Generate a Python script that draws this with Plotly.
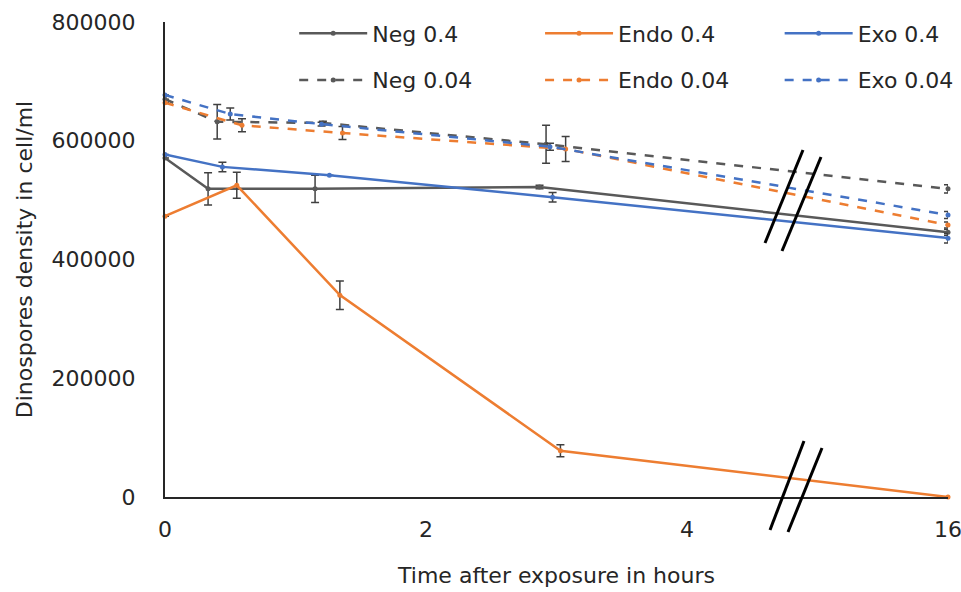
import plotly.graph_objects as go

# ---------------- data ----------------
tick_hours = [0, 2, 4, 16]

hours_neg_04 = [0, 0.33, 1.15, 2.87, 16]
neg_04 = [571000, 519000, 519000, 522000, 446000]
neg_04_err = [0, 27000, 23000, 3000, 5000]

hours_endo_04 = [0, 0.55, 1.34, 3.03, 16]
endo_04 = [473000, 525000, 340000, 78000, 0]
endo_04_err = [0, 22000, 24000, 10000, 0]

hours_exo_04 = [0, 0.44, 1.26, 2.97, 16]
exo_04 = [577000, 556000, 542000, 505000, 436000]
exo_04_err = [0, 8000, 0, 8000, 8000]

hours_neg_004 = [0, 0.4, 1.21, 2.92, 16]
neg_004 = [670000, 632000, 630000, 594000, 519000]
neg_004_err = [0, 29000, 3000, 32000, 7000]

hours_endo_004 = [0, 0.59, 1.36, 3.07, 16]
endo_004 = [664000, 626000, 613000, 586000, 458000]
endo_004_err = [0, 11000, 11000, 21000, 5000]

hours_exo_004 = [0, 0.5, 1.2, 2.95, 16]
exo_004 = [677000, 645000, 628000, 590000, 475000]
exo_004_err = [0, 10000, 3000, 6000, 6000]

# broken time axis: hours up to 4 are linear, the 16 h sample sits after the break
def axis_pos(t):
    return t if t <= 4 else 6

GRAY = "#595959"
ORANGE = "#ED7D31"
BLUE = "#4472C4"
ERR = "#404040"
TXT = "#262626"
FONT = "DejaVu Sans"

series = [
    ("Neg 0.4", hours_neg_04, neg_04, neg_04_err, GRAY, "solid", "legend"),
    ("Neg 0.04", hours_neg_004, neg_004, neg_004_err, GRAY, "dash", "legend"),
    ("Endo 0.4", hours_endo_04, endo_04, endo_04_err, ORANGE, "solid", "legend2"),
    ("Endo 0.04", hours_endo_004, endo_004, endo_004_err, ORANGE, "dash", "legend2"),
    ("Exo 0.4", hours_exo_04, exo_04, exo_04_err, BLUE, "solid", "legend3"),
    ("Exo 0.04", hours_exo_004, exo_004, exo_004_err, BLUE, "dash", "legend3"),
]

fig = go.Figure()
for name, hrs, vals, err, col, dash, lg in series:
    fig.add_trace(go.Scatter(
        x=[axis_pos(h) for h in hrs], y=vals, name=name, mode="lines+markers",
        line=dict(color=col, width=2.5, dash="dash" if dash == "dash" else "solid"),
        marker=dict(color=col, size=5),
        error_y=dict(type="data", array=err, visible=True, color=ERR,
                     thickness=1.5, width=4),
        legend=lg, legendgroup=name, cliponaxis=False,
    ))

# break marks
def px_x(p):
    return (p - 165) / (948 - 165)

def px_y(p):
    return (497 - p) / (497 - 22)

breaks = [((803, 150), (765, 243)), ((821, 157), (782, 251)),
          ((804, 441), (770, 530)), ((822, 448), (788, 532))]
for (x0, y0), (x1, y1) in breaks:
    fig.add_shape(type="line", xref="paper", yref="paper",
                  x0=px_x(x0), y0=px_y(y0), x1=px_x(x1), y1=px_y(y1),
                  line=dict(color="black", width=3))

legend_common = dict(
    orientation="v", yanchor="top", xanchor="left", y=1.02,
    font=dict(family=FONT, size=22, color=TXT),
    bgcolor="rgba(0,0,0,0)", itemwidth=68, tracegroupgap=15,
    traceorder="grouped",
)

fig.update_layout(
    width=961, height=592,
    margin=dict(l=165, r=13, t=22, b=95, autoexpand=False),
    paper_bgcolor="white", plot_bgcolor="white",
    font=dict(family=FONT, color=TXT),
    showlegend=True,
    legend=dict(x=0.165, **legend_common),
    legend2=dict(x=0.479, **legend_common),
    legend3=dict(x=0.785, **legend_common),
    xaxis=dict(
        range=[0, 6], tickvals=[axis_pos(t) for t in tick_hours],
        ticktext=[str(t) for t in tick_hours],
        showgrid=False, zeroline=False, showline=True, linecolor=TXT,
        linewidth=2, ticks="", ticklabelstandoff=12,
        ticklabeloverflow="allow",
        tickfont=dict(family=FONT, size=22, color=TXT),
        title=dict(text="Time after exposure in hours", standoff=26,
                   font=dict(family=FONT, size=22, color=TXT)),
    ),
    yaxis=dict(
        range=[0, 800000], tickvals=[0, 200000, 400000, 600000, 800000],
        ticktext=["0", "200000", "400000", "600000", "800000"],
        showgrid=False, zeroline=False, showline=True, linecolor=TXT,
        linewidth=2, ticks="", ticklabelstandoff=23,
        ticklabeloverflow="allow",
        tickfont=dict(family=FONT, size=22, color=TXT),
        title=dict(text="Dinospores density in cell/ml", standoff=13,
                   font=dict(family=FONT, size=22, color=TXT)),
    ),
)

fig.write_html("out.html", config={"displayModeBar": False},
               post_script="document.body.style.margin='0';")
